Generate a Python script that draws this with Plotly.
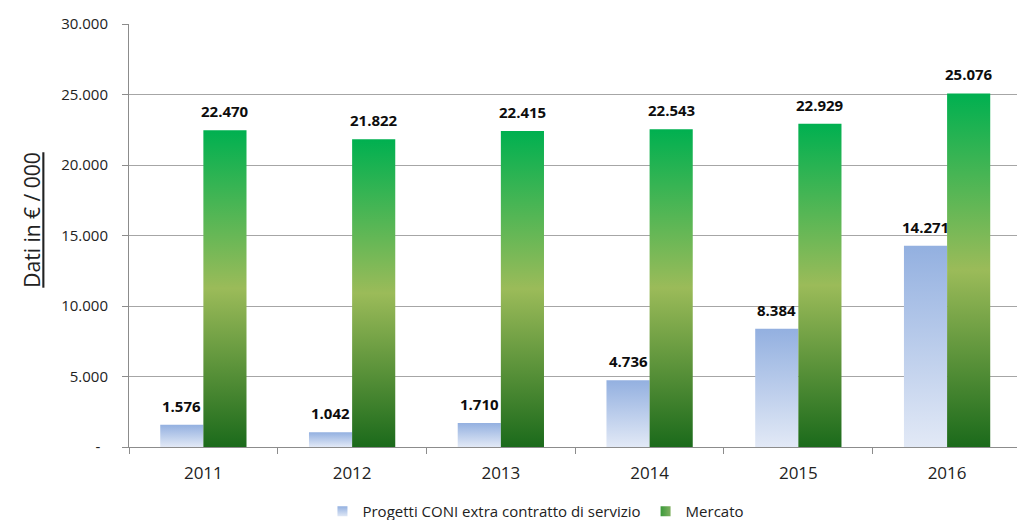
import plotly.graph_objects as go

years = ["2011", "2012", "2013", "2014", "2015", "2016"]
progetti = [1576, 1042, 1710, 4736, 8384, 14271]
mercato = [22470, 21822, 22415, 22543, 22929, 25076]
ytick_vals = [0, 5000, 10000, 15000, 20000, 25000, 30000]
ytick_text = ["-\u00a0\u00a0", "5.000", "10.000", "15.000", "20.000", "25.000", "30.000"]

name_p = "Progetti CONI extra contratto di servizio"
name_m = "Mercato"

BW = 0.29  # bar width in category units
blue_scale = [[0, "#e2e9f6"], [1, "#93b0e0"]]
green_scale = [[0, "#1b6a1b"], [0.5, "#9bbb59"], [1, "#00b050"]]


def fmt(v):
    return f"{v:,}".replace(",", ".")


fig = go.Figure()


def add_bars(values, offset, scale, group):
    for i, v in enumerate(values):
        x0 = i + offset
        x1 = x0 + BW
        fig.add_trace(go.Scatter(
            x=[x0, x1, x1, x0, x0], y=[0, 0, v, v, 0],
            mode="lines", line=dict(width=0), fill="toself",
            fillgradient=dict(type="vertical", colorscale=scale),
            showlegend=False, legendgroup=group, hoverinfo="skip",
        ))
        fig.add_annotation(
            x=(x0 + x1) / 2, y=v, text=f"<b>{fmt(v)}</b>", showarrow=False,
            yanchor="bottom", yshift=7,
            font=dict(family="Open Sans", size=15, color="#0d0d0d"),
        )


add_bars(progetti, -BW, blue_scale, "p")
add_bars(mercato, 0, green_scale, "m")

# legend entries
fig.add_trace(go.Scatter(
    x=[None], y=[None], mode="markers", name=name_p, legendgroup="p",
    marker=dict(symbol="square", size=10, color="#93b0e0", line=dict(width=0),
                gradient=dict(type="vertical", color="#dfe7f5")),
))
fig.add_trace(go.Scatter(
    x=[None], y=[None], mode="markers", name=name_m, legendgroup="m",
    marker=dict(symbol="square", size=10, color="#3a9a3a", line=dict(width=0),
                gradient=dict(type="horizontal", color="#7fb060")),
))

# year labels on a matching overlay axis
fig.add_trace(go.Scatter(x=[None], y=[None], xaxis="x2", showlegend=False))

fig.update_layout(
    width=1017, height=528,
    margin=dict(l=129, r=0, t=24, b=81),
    plot_bgcolor="white", paper_bgcolor="white",
    font=dict(family="Open Sans", color="#222"),
    showlegend=True,
    legend=dict(orientation="h", x=0.527, xanchor="center", xref="container",
                y=0, yanchor="bottom", yref="container",
                font=dict(size=15, color="#222"),
                itemwidth=30, traceorder="normal"),
    xaxis=dict(
        range=[-0.5, 5.47], tickmode="array",
        tickvals=[i - 0.5 for i in range(7)], ticktext=[""] * 7,
        ticks="outside", ticklen=6, tickcolor="#8c8c8c",
        showline=True, linecolor="#8c8c8c", linewidth=1,
        showgrid=False, zeroline=False, fixedrange=True,
    ),
    xaxis2=dict(
        overlaying="x", matches="x", side="bottom",
        tickmode="array", tickvals=list(range(len(years))), ticktext=years,
        ticks="", showgrid=False, zeroline=False, showline=False,
        tickfont=dict(size=17, color="#222"), ticklabelstandoff=14,
    ),
    yaxis=dict(
        range=[0, 30000], tickmode="array", tickvals=ytick_vals, ticktext=ytick_text,
        ticks="outside", ticklen=6, tickcolor="#8c8c8c",
        showline=True, linecolor="#8c8c8c", linewidth=1,
        showgrid=True, gridcolor="#a6a6a6", gridwidth=1, zeroline=False,
        tickfont=dict(size=15, color="#222"), ticklabelstandoff=11,
    ),
)

fig.add_annotation(
    xref="paper", yref="paper", x=(32 - 129) / 888, y=0.535,
    text="<u>Dati in € / 000</u>", textangle=-90, showarrow=False,
    xanchor="center", yanchor="middle",
    font=dict(family="Open Sans", size=21, color="#222"),
)

fig.write_html(
    "out.html",
    config={"displayModeBar": False},
    post_script="document.body.style.margin='0';"
                "document.documentElement.style.overflow='hidden';"
                "document.body.style.overflow='hidden';",
)
